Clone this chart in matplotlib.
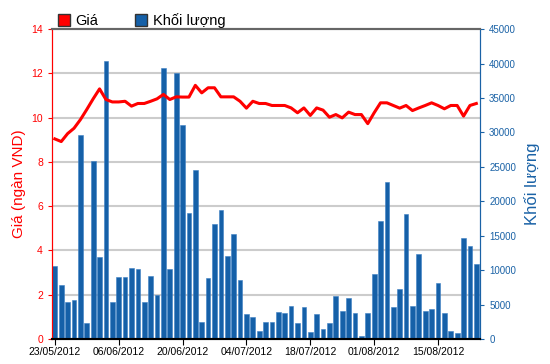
import numpy as np
import matplotlib.pyplot as plt
from matplotlib.patches import Patch

# Dữ liệu (phiên giao dịch 23/05/2012 - 23/08/2012)
gia = [9.04, 8.92, 9.28, 9.52, 9.91, 10.37, 10.85, 11.30, 10.82, 10.71,
       10.71, 10.74, 10.52, 10.64, 10.64, 10.74, 10.85, 11.05, 10.82, 10.94,
       10.93, 10.93, 11.46, 11.12, 11.35, 11.35, 10.94, 10.94, 10.94, 10.74,
       10.43, 10.74, 10.64, 10.64, 10.55, 10.55, 10.55, 10.44, 10.22, 10.44,
       10.10, 10.44, 10.34, 10.02, 10.14, 9.99, 10.25, 10.14, 10.14, 9.73,
       10.22, 10.67, 10.67, 10.55, 10.43, 10.55, 10.32, 10.44, 10.55, 10.67,
       10.55, 10.40, 10.55, 10.55, 10.07, 10.55, 10.64]
khoi_luong = [10640, 7910, 5390, 5730, 29630, 2330, 25790, 11900, 40320, 5390,
              9030, 9030, 10250, 10100, 5390, 9180, 6460, 39390, 10100, 38570,
              31090, 18270, 24580, 2480, 8840, 16660, 18750, 12100, 15200, 8500,
              3590, 3250, 1210, 2480, 2480, 3940, 3740, 4860, 2330, 4710,
              970, 3590, 1460, 2330, 6310, 4130, 5920, 3790, 390, 3790,
              9380, 17140, 22790, 4660, 7240, 18120, 4860, 12290, 4130, 4320,
              8110, 3790, 1210, 870, 14620, 13510, 10840]
nhan_ngay = ['23/05/2012', '06/06/2012', '20/06/2012', '04/07/2012',
             '18/07/2012', '01/08/2012', '15/08/2012']
vi_tri_ngay = [0, 10, 20, 30, 40, 50, 60]

plt.rcParams['font.family'] = ['Liberation Sans', 'DejaVu Sans']
do = '#ff0000'
xanh = '#1a62a6'

fig = plt.figure(figsize=(5.5, 3.64), dpi=100)
ax_v = fig.add_axes([0.0945, 0.0687, 0.7785, 0.8513])
ax_p = ax_v.twinx()
x = np.arange(len(khoi_luong))

# cột khối lượng (trục phải)
ax_v.bar(x, khoi_luong, width=0.74, color='#1560a8', edgecolor='#3c7fc4',
         linewidth=0.4, zorder=3)
ax_v.set_ylim(0, 45000)
ax_v.set_xlim(-0.45, 66.6)
ax_v.set_yticks(np.arange(0, 45001, 5000))
ax_v.set_yticks(np.arange(1, 7) * 45000 / 7, minor=True)
ax_v.grid(which='minor', axis='y', color='#cccccc', lw=1.5, zorder=0)
ax_v.tick_params(axis='y', which='minor', length=0)
ax_v.yaxis.tick_right()
ax_v.yaxis.set_label_position('right')
ax_v.tick_params(axis='y', colors=xanh, labelsize=7, length=3)
ax_v.set_ylabel('Khối lượng', color=xanh, fontsize=12, labelpad=6)

ax_v.set_xticks(vi_tri_ngay)
ax_v.set_xticklabels(nhan_ngay, fontsize=7.5)
ax_v.tick_params(axis='x', length=4, pad=2)

# đường giá (trục trái)
ax_p.plot(x, gia, color=do, lw=2.2, zorder=5)
ax_p.set_ylim(0, 14)
ax_p.set_yticks(np.arange(0, 15, 2))
ax_p.yaxis.tick_left()
ax_p.yaxis.set_label_position('left')
ax_p.tick_params(axis='y', colors=do, labelsize=7.5, length=3)
ax_p.set_ylabel('Giá (ngàn VND)', color=do, fontsize=11, labelpad=4)

for a in (ax_v, ax_p):
    a.spines['left'].set_color(do)
    a.spines['right'].set_color(xanh)
    a.spines['top'].set_color('#666666')
    a.spines['top'].set_linewidth(1.5)
    a.spines['bottom'].set_color('black')
    a.spines['bottom'].set_linewidth(1.5)

fig.legend(handles=[Patch(facecolor=do, edgecolor='#333333', label='Giá'),
                    Patch(facecolor='#1560a8', edgecolor='#333333', label='Khối lượng')],
           loc='upper left', bbox_to_anchor=(0.082, 1.0), ncol=2, frameon=False,
           fontsize=10.5, handlelength=0.8, handleheight=0.9, handletextpad=0.4,
           columnspacing=2.5)

fig.savefig('out.png', dpi=100)
